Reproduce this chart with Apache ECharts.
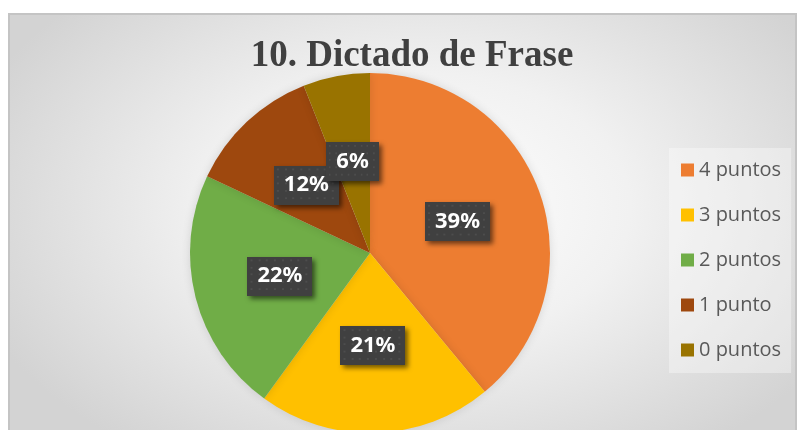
<!DOCTYPE html>
<html>
<head>
<meta charset="utf-8">
<script src="https://cdn.jsdelivr.net/npm/echarts@6/dist/echarts.min.js"></script>
<style>
  html, body { margin: 0; padding: 0; background: #ffffff; }
  #frame {
    position: absolute; left: 8px; top: 13px; width: 789px; height: 430px;
    border: 2px solid #c4c4c4; border-bottom: none; box-sizing: border-box;
    background: radial-gradient(ellipse 60% 70% at 52% 45%, #ffffff 0%, #f1f1f1 45%, #d3d3d3 100%);
  }
  #chart { position: absolute; left: 0; top: 0; width: 803px; height: 430px; }
</style>
</head>
<body>
<div id="frame"></div>
<div id="chart"></div>
<script>
const titleText = '10. Dictado de Frase';
const categories = ['4 puntos', '3 puntos', '2 puntos', '1 punto', '0 puntos'];
const values = [39, 21, 22, 12, 6];
const colors = ['#ED7D31', '#FFC000', '#70AD47', '#9E480E', '#997300'];

// dotted dark texture for the data-label boxes
const tex = document.createElement('canvas');
tex.width = 64; tex.height = 42;
(function () {
  const g = tex.getContext('2d');
  g.fillStyle = '#404040';
  g.fillRect(0, 0, tex.width, tex.height);
  g.fillStyle = '#4d4d4d';
  for (let y = 3; y < tex.height; y += 7.7) {
    for (let x = 3; x < tex.width; x += 7.7) {
      g.fillRect(Math.round(x), Math.round(y), 2, 2);
    }
  }
})();

const chart = echarts.init(document.getElementById('chart'), null, { renderer: 'canvas' });
chart.setOption({
  backgroundColor: 'transparent',
  animation: false,
  title: {
    text: titleText,
    left: 407, textAlign: 'center',
    top: 33,
    textStyle: {
      fontFamily: '"Liberation Serif", "Times New Roman", serif',
      fontWeight: 'bold', fontSize: 37, color: '#404040'
    }
  },
  legend: {
    orient: 'vertical',
    left: 669, top: 148,
    padding: [11, 10, 12, 12],
    backgroundColor: 'rgba(255,255,255,0.35)',
    itemWidth: 13, itemHeight: 13, itemGap: 23,
    icon: 'rect',
    data: categories,
    textStyle: { fontFamily: '"Open Sans", "Noto Sans", sans-serif', fontSize: 20, lineHeight: 22, color: '#595959', padding: [0, 0, 0, 0] }
  },
  series: [{
    type: 'pie',
    center: [370, 253],
    radius: 180,
    startAngle: 90,
    clockwise: true,
    avoidLabelOverlap: false,
    minShowLabelAngle: 0,
    color: colors,
    itemStyle: { borderWidth: 0, shadowBlur: 10, shadowColor: 'rgba(0,0,0,0.12)' },
    label: {
      show: true,
      position: 'inside',
      formatter: p => p.value + '%',
      fontFamily: '"Noto Sans", "Open Sans", sans-serif',
      fontWeight: 'bold', fontSize: 22, color: '#ffffff',
      backgroundColor: { image: tex },
      padding: [9, 10, 8, 10],
      shadowColor: 'rgba(0,0,0,0.55)', shadowBlur: 5, shadowOffsetX: 3, shadowOffsetY: 3
    },
    labelLayout: { hideOverlap: false },
    labelLine: { show: false },
    emphasis: { disabled: true },
    data: categories.map((c, i) => ({ name: c, value: values[i] }))
  }]
});
</script>
</body>
</html>
